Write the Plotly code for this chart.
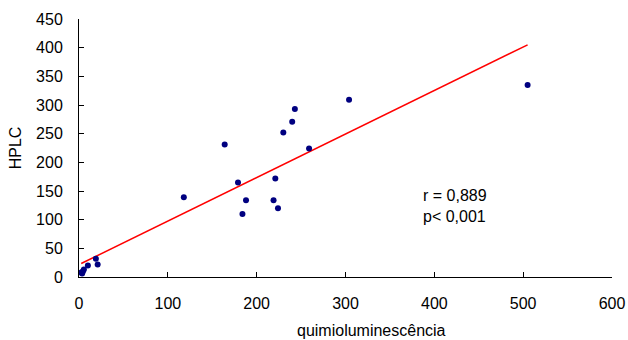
import plotly.graph_objects as go

# scatter data: quimioluminescência (x) vs HPLC (y)
quimio = [2.5, 3.5, 4.5, 5.5, 10, 19, 21, 118, 164, 179, 184, 188, 219, 221, 224, 230, 240, 243, 259, 304, 505]
hplc = [8, 6, 10, 13, 20, 32, 22, 139, 231, 165, 110, 134, 134, 172, 120, 252, 271, 293, 224, 309, 335]

# regression line endpoints
trend_x = [2.5, 505]
trend_y = [23.5, 405]

x_ticks = [0, 100, 200, 300, 400, 500, 600]
y_ticks = [0, 50, 100, 150, 200, 250, 300, 350, 400, 450]

FONT = "Liberation Sans, Arial, sans-serif"

fig = go.Figure()
fig.add_trace(go.Scatter(x=trend_x, y=trend_y, mode="lines",
                         line=dict(color="#ff0000", width=1.5), showlegend=False, hoverinfo="skip"))
fig.add_trace(go.Scatter(x=quimio, y=hplc, mode="markers",
                         marker=dict(color="#000080", size=6), showlegend=False))

fig.add_annotation(x=385, y=123, xref="x", yref="y", xanchor="left", yanchor="middle",
                   text="r = 0,889<br>p< 0,001", showarrow=False, align="left",
                   font=dict(family=FONT, size=16, color="#000000"))
# x axis title (offset to the right of the plot centre, as in the original)
fig.add_annotation(x=0.5486, y=-0.208, xref="paper", yref="paper", xanchor="center", yanchor="middle",
                   text="quimioluminescência", showarrow=False,
                   font=dict(family=FONT, size=16, color="#000000"))

fig.update_layout(
    width=628, height=340,
    margin=dict(l=79, r=16, t=19, b=63),
    paper_bgcolor="white", plot_bgcolor="white",
    font=dict(family=FONT, size=16, color="#000000"),
)
fig.update_xaxes(range=[0, 600], tickvals=x_ticks, showgrid=False, zeroline=False,
                 showline=True, linecolor="black", linewidth=1,
                 ticks="inside", ticklen=5, tickcolor="black",
                 ticklabelstandoff=12, automargin=False)
fig.update_yaxes(range=[0, 450], tickvals=y_ticks, showgrid=False, zeroline=False,
                 showline=True, linecolor="black", linewidth=1,
                 ticks="inside", ticklen=5, tickcolor="black",
                 ticklabelstandoff=12, automargin=False,
                 title=dict(text="HPLC", standoff=10, font=dict(size=16)))

fig.write_html("out.html", config={"displayModeBar": False},
               post_script="document.body.style.margin='0';document.body.style.overflow='hidden';")
